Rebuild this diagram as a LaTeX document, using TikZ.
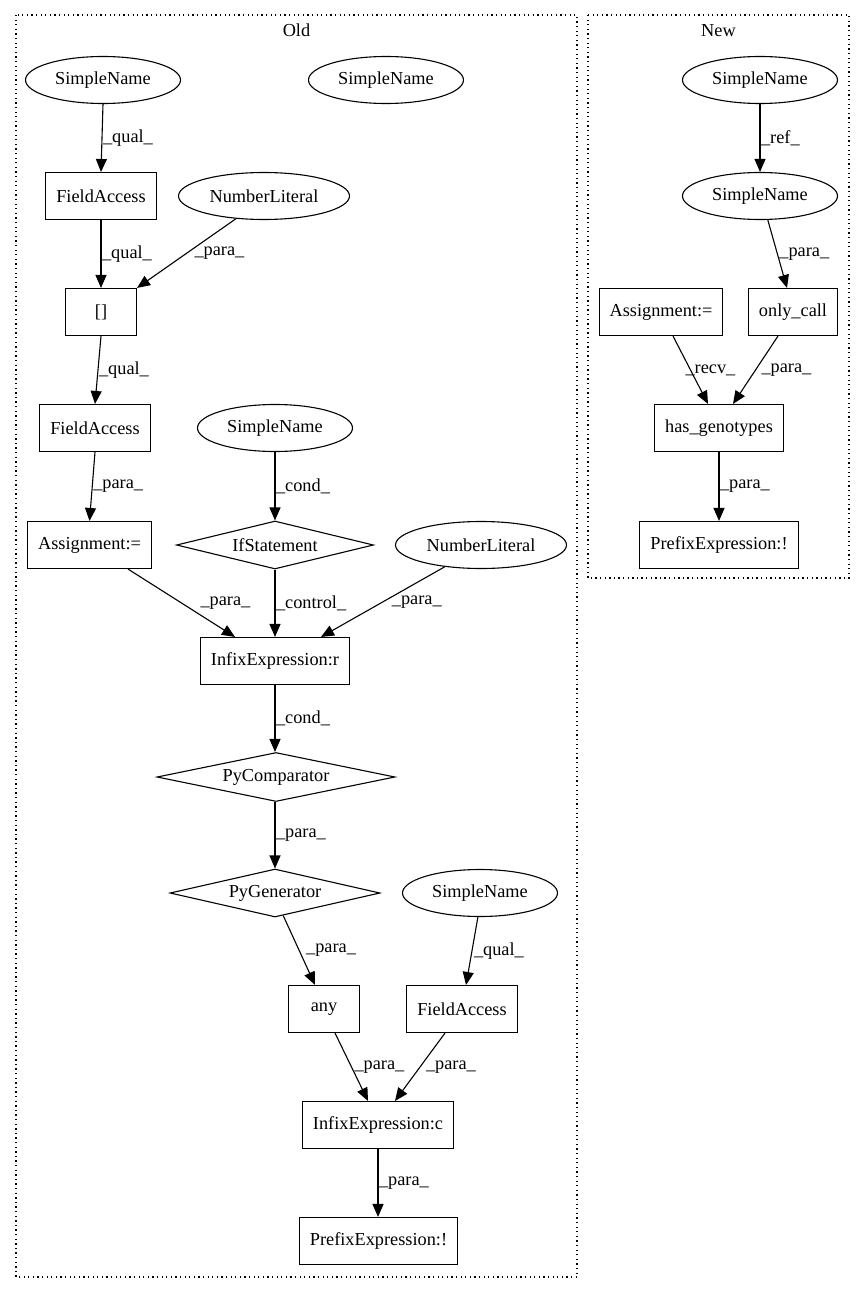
\documentclass[tikz,border=0pt]{standalone}
\usepackage{fontspec}
\setmainfont{Liberation Serif}
\usetikzlibrary{shapes.geometric,arrows.meta}
\begin{document}
\begin{tikzpicture}[x=1pt,y=-1pt,
  font=\fontsize{18.3}{22}\selectfont,
  box/.style={draw,line width=1.1pt,rectangle,minimum height=47pt,minimum width=71pt,inner xsep=10.5pt,inner ysep=0pt},
  ell/.style={draw,line width=1.1pt,ellipse,inner sep=0pt,minimum height=47pt,minimum width=155pt},
  dia/.style={draw,line width=1.1pt,diamond,aspect=4.5,inner sep=0pt,minimum height=48pt},
  edge/.style={line width=1.1pt,-{Triangle[length=13pt,width=11pt]}},
  lab/.style={anchor=west,inner sep=0.5pt},
  clus/.style={line width=1.1pt,dash pattern=on 1.3pt off 3.3pt}]
\useasboundingbox (0,0) rectangle (865,1292);
\fill[white] (0,0) rectangle (865,1292);
% clusters
\draw[clus] (16,15) rectangle (577,1277);
\draw[clus] (588,15) rectangle (849,578);
\node[anchor=base] (oldlbl) at (296.5,37) {Old};
\node[anchor=base] (newlbl) at (718.5,37) {New};
% Old nodes
\node[ell] (sn1) at (103,80) {SimpleName};
\node[ell] (sno) at (386,80) {SimpleName};
\node[box] (fa1) at (101,196) {FieldAccess};
\node[ell,minimum width=171pt] (nl1) at (264,196) {NumberLiteral};
\node[box] (br) at (101,312) {[]};
\node[box] (fa2) at (95,428) {FieldAccess};
\node[ell] (sn2) at (275,428) {SimpleName};
\node[box] (asg) at (89.5,545) {Assignment:=};
\node[dia,minimum width=197pt] (ifs) at (275,545) {IfStatement};
\node[ell,minimum width=171pt] (nl2) at (481,545) {NumberLiteral};
\node[box] (ixr) at (275,661) {InfixExpression:r};
\node[dia,minimum width=238pt,minimum height=49pt] (pyc) at (276,777) {PyComparator};
\node[dia,minimum width=210pt] (pyg) at (275,893) {PyGenerator};
\node[ell] (sn3) at (480,893) {SimpleName};
\node[box] (any) at (324,1009) {any};
\node[box] (fa3) at (462,1009) {FieldAccess};
\node[box] (ixc) at (378,1125) {InfixExpression:c};
\node[box] (pfx) at (378.5,1241) {PrefixExpression:!};
% New nodes
\node[ell] (na) at (760,80) {SimpleName};
\node[ell] (nb) at (760,196) {SimpleName};
\node[box] (asn) at (661,312) {Assignment:=};
\node[box] (oc) at (793,312) {only\_call};
\node[box] (hg) at (719,428) {has\_genotypes};
\node[box] (pfn) at (719,545) {PrefixExpression:!};
% Old edges
\draw[edge] (sn1.south) -- node[lab] {\_qual\_} (fa1.north);
\draw[edge] (fa1.south) -- node[lab] {\_qual\_} (br.north);
\draw[edge] (nl1.219) -- node[lab,xshift=7pt] {\_para\_} (br.north east);
\draw[edge] (br.south) -- node[lab] {\_qual\_} (fa2.north);
\draw[edge] (fa2.south) -- node[lab] {\_para\_} (asg.north);
\draw[edge] (sn2.south) -- node[lab] {\_cond\_} (ifs.north);
\draw[edge] ([xshift=38.5pt]asg.south) -- node[lab,xshift=18pt] {\_para\_} ([xshift=-40pt]ixr.north);
\draw[edge] (ifs.south) -- node[lab] {\_control\_} (ixr.north);
\draw[edge] (nl2.211) -- node[lab,xshift=8pt] {\_para\_} ([xshift=46pt]ixr.north);
\draw[edge] (ixr.south) -- node[lab] {\_cond\_} ([xshift=-1pt]pyc.north);
\draw[edge] ([xshift=-1pt]pyc.south) -- node[lab] {\_para\_} (pyg.north);
\draw[edge] (pyg.290) -- node[lab,xshift=6pt] {\_para\_} ([xshift=-9pt]any.north);
\draw[edge] (sn3.265) -- node[lab,xshift=1pt] {\_qual\_} ([xshift=4pt]fa3.north);
\draw[edge] ([xshift=11pt]any.south) -- node[lab,xshift=2pt] {\_para\_} ([xshift=-10pt]ixc.north);
\draw[edge] ([xshift=-17pt]fa3.south) -- node[lab,xshift=5pt] {\_para\_} ([xshift=17pt]ixc.north);
\draw[edge] (ixc.south) -- node[lab] {\_para\_} ([xshift=-0.5pt]pfx.north);
% New edges
\draw[edge] (na.south) -- node[lab] {\_ref\_} (nb.north);
\draw[edge] (nb.288) -- node[lab,xshift=1pt] {\_para\_} ([xshift=-6pt]oc.north);
\draw[edge] ([xshift=12pt]asn.south) -- node[lab,xshift=-6pt] {\_recv\_} ([xshift=-11pt]hg.north);
\draw[edge] ([xshift=-15pt]oc.south) -- node[lab,xshift=5pt] {\_para\_} ([xshift=14pt]hg.north);
\draw[edge] (hg.south) -- node[lab] {\_para\_} (pfn.north);
\end{tikzpicture}
\end{document}
